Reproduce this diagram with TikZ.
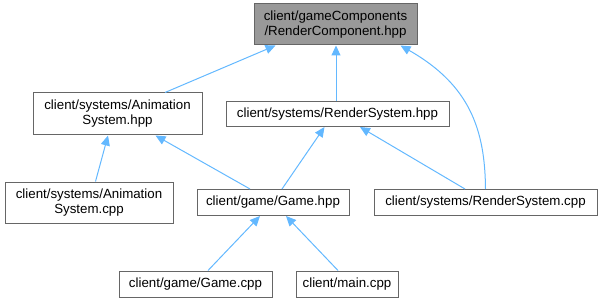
\documentclass[tikz,border=0pt]{standalone}
\usepackage{fontspec}
\setmainfont{Liberation Sans}
\usetikzlibrary{arrows.meta}
\definecolor{edgeblue}{HTML}{63B8FF}
\definecolor{boxline}{HTML}{666666}
\definecolor{rootfill}{HTML}{999999}
\begin{document}
\begin{tikzpicture}[x=1pt,y=-1pt,
  file/.style={draw=boxline,fill=white,line width=1pt,inner sep=0pt,
    align=center,font=\fontsize{13.3}{15}\selectfont},
  root/.style={file,fill=rootfill},
  dep/.style={draw=edgeblue,line width=1pt,
    {Triangle[length=10pt,width=9pt,fill=edgeblue]}-},
]
\useasboundingbox (0,0) rectangle (602,302);

% files
\node[root,minimum width=163pt,minimum height=41pt] (rc) at (335.5,24.5)
  {client/gameComponents\\/RenderComponent.hpp};
\node[file,minimum width=169pt,minimum height=42pt] (ash) at (117.5,114)
  {client/systems/Animation\\System.hpp};
\node[file,minimum width=223pt,minimum height=25pt] (rsh) at (337.5,114)
  {client/systems/RenderSystem.hpp};
\node[file,minimum width=168pt,minimum height=41pt] (asc) at (89,202.5)
  {client/systems/Animation\\System.cpp};
\node[file,minimum width=152pt,minimum height=26pt] (gh) at (273,202.5)
  {client/game/Game.hpp};
\node[file,minimum width=223pt,minimum height=26pt] (rsc) at (485.5,202.5)
  {client/systems/RenderSystem.cpp};
\node[file,minimum width=153pt,minimum height=26pt] (gc) at (195.5,284)
  {client/game/Game.cpp};
\node[file,minimum width=102pt,minimum height=26pt] (mc) at (347,284)
  {client/main.cpp};

% include dependencies (arrow points at the included file)
\draw[dep] ([xshift=-60pt]rc.south) -- ([xshift=47.5pt]ash.north);
\draw[dep] ([xshift=0.5pt]rc.south) -- ([xshift=-1.5pt]rsh.north);
\draw[dep] ([xshift=65pt]rc.south) .. controls (470,85) and (485,130) .. (rsc.north);
\draw[dep] ([xshift=-9.5pt]ash.south) -- ([xshift=6.5pt]asc.north);
\draw[dep] ([xshift=38pt]ash.south) -- ([xshift=-23pt]gh.north);
\draw[dep] ([xshift=-13pt]rsh.south) -- ([xshift=9pt]gh.north);
\draw[dep] ([xshift=22.5pt]rsh.south) -- ([xshift=-20.5pt]rsc.north);
\draw[dep] ([xshift=-13pt]gh.south) -- ([xshift=12.5pt]gc.north);
\draw[dep] ([xshift=13pt]gh.south) -- ([xshift=-9pt]mc.north);
\end{tikzpicture}
\end{document}
